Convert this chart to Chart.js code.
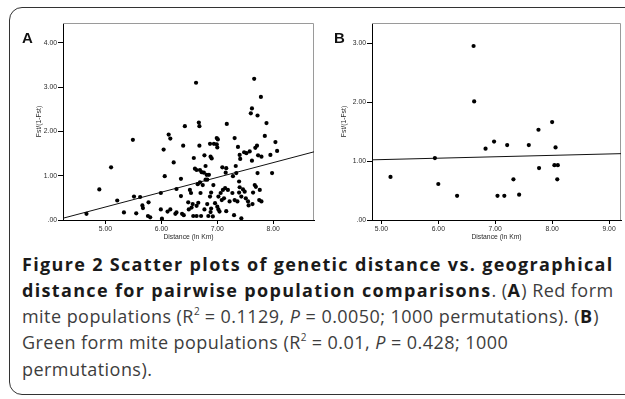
<!DOCTYPE html>
<html><head><meta charset="utf-8">
<script src="https://cdn.jsdelivr.net/npm/chart.js@4/dist/chart.umd.min.js"></script>
<style>
html,body{margin:0;padding:0;background:#fff;width:625px;height:399px;overflow:hidden;position:relative;}
#frame{position:absolute;left:9px;top:7px;width:700px;height:388px;border:1px solid #333;border-radius:13px;box-sizing:border-box;}
canvas{position:absolute;}
.pl{position:absolute;font:bold 15px "Liberation Sans",Arial,sans-serif;color:#111;}
.cap{position:absolute;left:22px;font-family:"Open Sans",sans-serif;font-size:18px;line-height:26px;color:#3d3d3d;white-space:nowrap;letter-spacing:0.45px;}
.cap b{color:#1a1a1a;font-weight:700;letter-spacing:1.33px;}
.cap sup{font-size:10px;line-height:0;position:relative;top:-1px;letter-spacing:0;}
</style></head>
<body>
<div id="frame"></div>
<canvas id="ca" width="320" height="245" style="left:0;top:0"></canvas>
<canvas id="cb" width="305" height="245" style="left:320px;top:0"></canvas>
<div class="pl" style="left:22px;top:29px">A</div>
<div class="pl" style="left:334px;top:29px">B</div>
<div class="cap" style="top:251px;"><b>Figure 2 Scatter plots of genetic distance vs. geographical</b></div>
<div class="cap" style="top:277px;"><b>distance for pairwise population comparisons</b>. (<b>A</b>) Red form</div>
<div class="cap" style="top:303px;">mite populations (R<sup>2</sup> = 0.1129, <i>P</i> = 0.0050; 1000 permutations). (<b>B</b>)</div>
<div class="cap" style="top:329px;">Green form mite populations (R<sup>2</sup> = 0.01, <i>P</i> = 0.428; 1000</div>
<div class="cap" style="top:356px;">permutations).</div>
<script>
// Panel A: red form
const distA = [4.66,4.89,5.10,5.21,5.33,5.49,5.51,5.55,5.62,5.66,5.67,5.77,5.76,5.80,5.99,5.99,6.01,6.04,6.06,6.11,6.13,6.16,6.16,6.22,6.25,6.27,6.27,6.35,6.35,6.37,6.39,6.40,6.42,6.48,6.49,6.51,6.53,6.54,6.56,6.57,6.58,6.60,6.62,6.63,6.63,6.63,6.65,6.66,6.67,6.68,6.68,6.69,6.69,6.70,6.71,6.72,6.74,6.76,6.77,6.77,6.79,6.79,6.81,6.82,6.82,6.84,6.85,6.87,6.87,6.88,6.88,6.89,6.89,6.90,6.92,6.93,6.94,6.96,6.99,6.99,7.00,7.00,7.01,7.02,7.02,7.04,7.06,7.08,7.09,7.10,7.12,7.14,7.15,7.16,7.17,7.16,7.19,7.22,7.27,7.28,7.30,7.31,7.31,7.33,7.34,7.36,7.37,7.39,7.39,7.40,7.40,7.41,7.43,7.43,7.46,7.48,7.49,7.51,7.52,7.55,7.56,7.58,7.60,7.62,7.62,7.63,7.64,7.66,7.67,7.68,7.69,7.71,7.72,7.72,7.73,7.75,7.76,7.78,7.79,7.79,7.85,7.88,7.95,7.98,8.04,8.07];
const fstA  = [0.14,0.69,1.19,0.44,0.17,1.81,0.53,0.15,0.52,0.33,0.27,0.40,0.09,0.06,0.61,0.24,0.03,1.59,0.99,0.19,1.93,0.24,1.84,1.30,0.14,0.70,0.17,0.93,0.54,0.14,1.68,0.11,2.12,0.40,0.24,0.68,0.61,0.28,0.36,0.09,1.40,1.16,3.10,1.13,0.32,0.09,0.81,0.39,2.20,2.12,1.68,1.13,0.85,0.61,0.09,1.08,0.79,1.07,1.46,0.24,0.91,1.22,1.02,0.36,0.91,0.09,1.02,0.53,1.72,0.18,1.43,0.26,0.62,1.39,0.08,0.79,1.72,0.38,1.85,1.71,0.30,1.64,1.82,0.24,0.53,0.19,0.61,0.45,1.19,0.68,0.49,0.72,1.07,1.17,2.17,0.20,0.68,0.42,0.61,0.99,0.11,1.85,0.45,1.22,1.06,0.42,1.65,0.87,0.62,1.47,0.74,1.38,0.04,0.53,0.69,1.53,0.64,0.49,1.51,0.42,0.33,1.55,2.41,2.52,1.34,0.36,0.62,3.19,0.79,1.63,0.75,1.68,2.36,1.06,1.46,0.45,0.68,2.78,1.43,0.42,1.90,2.19,1.47,1.06,1.76,1.56];
const fitAx = [4.24, 8.73];
const fitAy = [0.04, 1.54];
const xTicksA = [5, 6, 7, 8];
const yTicksA = [0, 1, 2, 3, 4];
const xRangeA = [4.24, 8.73];
const yRangeA = [0, 4.45];

// Panel B: green form
const distB = [5.16,5.94,6.00,6.33,6.62,6.63,6.83,6.98,7.04,7.16,7.21,7.32,7.42,7.59,7.76,7.77,8.00,8.06,8.04,8.10,8.09];
const fstB  = [0.73,1.05,0.61,0.41,2.95,2.01,1.21,1.33,0.41,0.41,1.27,0.69,0.43,1.27,1.53,0.88,1.66,1.23,0.93,0.93,0.69];
const fitBx = [4.835, 9.21];
const fitBy = [1.02, 1.125];
const xTicksB = [5, 6, 7, 8, 9];
const yTicksB = [0, 1, 2, 3];
const xRangeB = [4.835, 9.21];
const yRangeB = [0, 3.34];

const xTitle = 'Distance (ln Km)';
const yTitle = 'Fst/(1-Fst)';

const FONT = '"Liberation Sans", Arial, sans-serif';
const fmt = v => v === 0 ? '.00' : v.toFixed(2);

const boxPlugin = {
  id: 'box',
  beforeDatasetsDraw(chart) {
    const {ctx, chartArea: a} = chart;
    ctx.save();
    ctx.strokeStyle = '#9a9a9a';
    ctx.lineWidth = 1;
    ctx.beginPath();
    ctx.moveTo(a.left, a.top + 0.5);
    ctx.lineTo(a.right - 0.5, a.top + 0.5);
    ctx.lineTo(a.right - 0.5, a.bottom);
    ctx.stroke();
    ctx.restore();
  }
};

function makeChart(id, xs, ys, fx, fy, xt, yt, xr, yr, yAxisW, padRight, yTitlePad) {
  const pts = xs.map((x, i) => ({x, y: ys[i]}));
  const fit = fx.map((x, i) => ({x, y: fy[i]}));
  return new Chart(document.getElementById(id), {
    type: 'scatter',
    data: {
      datasets: [
        {data: pts, backgroundColor: '#000', borderColor: '#000', pointRadius: 2.1, pointHoverRadius: 2.1, borderWidth: 0},
        {type: 'line', data: fit, borderColor: '#111', borderWidth: 1, pointRadius: 0, fill: false, tension: 0}
      ]
    },
    options: {
      responsive: false, animation: false, devicePixelRatio: 1,
      layout: {padding: {top: 23, left: 0, right: padRight, bottom: 0}},
      plugins: {legend: {display: false}, tooltip: {enabled: false}},
      scales: {
        x: {
          type: 'linear', min: xr[0], max: xr[1],
          afterBuildTicks: s => { s.ticks = xt.map(v => ({value: v})); },
          afterFit: s => { s.height = 25; },
          grid: {drawOnChartArea: false, drawTicks: true, tickLength: 4, color: '#000', tickColor: '#000'},
          border: {display: true, color: '#000', width: 1},
          ticks: {callback: fmt, font: {family: FONT, size: 6.8}, color: '#2a2a2a', padding: 1, maxRotation: 0, autoSkip: false},
          title: {display: true, text: xTitle, font: {family: FONT, size: 6.8}, color: '#2a2a2a', padding: {top: 0, bottom: 4}}
        },
        y: {
          type: 'linear', min: yr[0], max: yr[1],
          afterBuildTicks: s => { s.ticks = yt.map(v => ({value: v})); },
          afterFit: s => { s.width = yAxisW; },
          grid: {drawOnChartArea: false, drawTicks: true, tickLength: 5, color: '#000', tickColor: '#000'},
          border: {display: true, color: '#000', width: 1},
          ticks: {callback: fmt, font: {family: FONT, size: 6.8}, color: '#2a2a2a', padding: 1, autoSkip: false},
          title: {display: true, text: yTitle, font: {family: FONT, size: 6.8}, color: '#2a2a2a', padding: {top: yTitlePad, bottom: 0}}
        }
      }
    },
    plugins: [boxPlugin]
  });
}

makeChart('ca', distA, fstA, fitAx, fitAy, xTicksA, yTicksA, xRangeA, yRangeA, 63, 6, 35);
makeChart('cb', distB, fstB, fitBx, fitBy, xTicksB, yTicksB, xRangeB, yRangeB, 52, 4, 20);
</script>
</body></html>
